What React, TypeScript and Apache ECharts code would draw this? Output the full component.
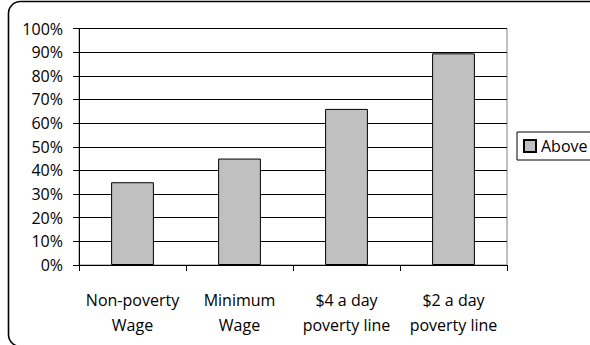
import React, { useEffect, useRef } from "react";
import * as echarts from "echarts";

const categories = ["Non-poverty\nWage", "Minimum\nWage", "$4 a day\npoverty line", "$2 a day\npoverty line"];
const aboveValues = [0.35, 0.45, 0.66, 0.895];
const seriesName = "Above";

const FONT = "'Open Sans', sans-serif";

export default function App() {
  const ref = useRef<HTMLDivElement>(null);
  useEffect(() => {
    if (!ref.current) return;
    const chart = echarts.init(ref.current, undefined, { renderer: "svg" });
    chart.setOption({
      animation: false,
      backgroundColor: "#fff",
      graphic: [
        {
          type: "rect",
          shape: { x: 8.5, y: 1.5, width: 620, height: 345, r: 12 },
          style: { fill: "none", stroke: "#000", lineWidth: 1.6 },
          silent: true,
          z: 100,
        },
      ],
      grid: {
        left: 79,
        right: 83,
        top: 28.5,
        bottom: 80,
        show: true,
        borderColor: "#808080",
        borderWidth: 1,
        backgroundColor: "transparent",
      },
      legend: {
        show: true,
        data: [seriesName],
        left: 517,
        top: 132,
        orient: "vertical",
        itemWidth: 12,
        itemHeight: 12,
        itemGap: 0,
        padding: [6, 40, 6, 6],
        borderColor: "#000",
        borderWidth: 1,
        backgroundColor: "#fff",
        icon: "rect",
        textStyle: { fontFamily: FONT, fontSize: 16, color: "#000", padding: [0, 0, 0, 0] },
      },
      xAxis: {
        type: "category",
        data: categories,
        boundaryGap: true,
        axisLine: { show: true, lineStyle: { color: "#000", width: 1 } },
        axisTick: { show: true, length: 6, inside: false, lineStyle: { color: "#000" } },
        axisLabel: {
          fontFamily: FONT,
          fontSize: 16,
          color: "#000",
          margin: 22,
          lineHeight: 25,
          interval: 0,
        },
        splitLine: { show: false },
      },
      yAxis: {
        type: "value",
        min: 0,
        max: 1,
        interval: 0.1,
        axisLine: { show: true, lineStyle: { color: "#000", width: 1 } },
        axisTick: { show: true, length: 6, inside: false, lineStyle: { color: "#000" } },
        axisLabel: {
          fontFamily: FONT,
          fontSize: 16,
          color: "#000",
          margin: 16,
          formatter: (v: number) => `${Math.round(v * 100)}%`,
        },
        splitLine: { show: true, lineStyle: { color: "#000", width: 1 } },
      },
      series: [
        {
          name: seriesName,
          type: "bar",
          data: aboveValues,
          barCategoryGap: "60%",
          itemStyle: { color: "#C0C0C0", borderColor: "#000", borderWidth: 1 },
        },
      ],
    });
    return () => chart.dispose();
  }, []);
  return (
    <div
      ref={ref}
      style={{ position: "fixed", left: 0, top: 0, width: 590, height: 345 }}
    />
  );
}
